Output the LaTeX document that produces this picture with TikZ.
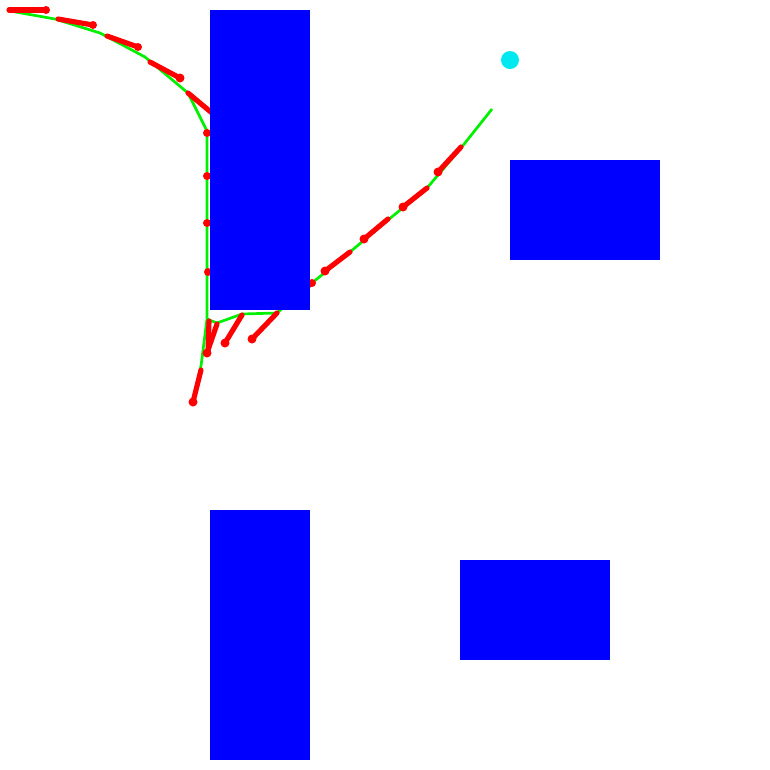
\documentclass[tikz,border=0pt]{standalone}
\usepackage{xcolor}
\usepackage{tikz}
\definecolor{obst}{HTML}{0000FF}
\definecolor{tree}{HTML}{00F000}
\definecolor{seg}{HTML}{FF0000}
\definecolor{goalc}{HTML}{00E8F0}

\begin{document}
\begin{tikzpicture}[x=0.03cm,y=-0.03cm,
  ob/.style={fill=obst,draw=none},
  br/.style={draw=tree,line width=2.3pt,line join=round},
  sg/.style={draw=seg,line width=4.4pt,line cap=round},
  dt/.style={fill=seg}]
  \useasboundingbox (0,0) rectangle (770,770);
  % tree nodes
  \coordinate (s)  at (10,11);
  \coordinate (n1) at (55,19);
  \coordinate (n2) at (100,33);
  \coordinate (n3) at (145,57);
  \coordinate (n4) at (188,93);
  \coordinate (n5) at (207,131);
  \coordinate (n6) at (207,319);
  \coordinate (n7) at (201,366);
  \coordinate (n8) at (193,402);
  \coordinate (n9) at (217,323);
  \coordinate (n10) at (242,314);
  \coordinate (n11) at (277,313);
  \coordinate (n12) at (312,283);
  \coordinate (n13) at (350,252);
  \coordinate (n14) at (388,220);
  \coordinate (n15) at (427,188);
  \coordinate (n16) at (461,148);
  \coordinate (n17) at (492,109);
  % tree
  \draw[br] (s) -- (n1) -- (n2) -- (n3) -- (n4) -- (n5) -- (n6) -- (n7) -- (n8);
  \draw[br] (n6) -- (n9) -- (n10) -- (n11) -- (n12) -- (n13) -- (n14) -- (n15)
    -- (n16) -- (n17);
  % red samples
  \draw[sg] (9,10) -- (46,10);   \fill[dt] (46,10) circle (4);
  \draw[sg] (58,19) -- (93,25);  \fill[dt] (93,25) circle (4);
  \draw[sg] (107,36) -- (138,47); \fill[dt] (138,47) circle (4);
  \draw[sg] (150,62) -- (180,78); \fill[dt] (180,78) circle (4.5);
  \draw[sg] (188,93) -- (218,118);
  \draw[sg] (207,133) -- (235,133); \fill[dt] (207,133) circle (4);
  \draw[sg] (207,176) -- (235,176); \fill[dt] (207,176) circle (4);
  \draw[sg] (207,223) -- (235,223); \fill[dt] (207,223) circle (4);
  \draw[sg] (208,272) -- (235,272); \fill[dt] (208,272) circle (4);
  \draw[sg] (209,321) -- (208,353);
  \draw[sg] (217,324) -- (207,353); \fill[dt] (207,353) circle (4.5);
  \draw[sg] (242,315) -- (225,343); \fill[dt] (225,343) circle (4.5);
  \draw[sg] (277,313) -- (252,339); \fill[dt] (252,339) circle (4.5);
  \draw[sg] (201,370) -- (193,402); \fill[dt] (193,402) circle (4.5);
  \draw[sg] (312,283) -- (292,298); \fill[dt] (312,283) circle (4);
  \draw[sg] (325,271) -- (350,252); \fill[dt] (325,271) circle (4.5);
  \draw[sg] (364,239) -- (388,219); \fill[dt] (364,239) circle (4.5);
  \draw[sg] (403,207) -- (427,188); \fill[dt] (403,207) circle (4.5);
  \draw[sg] (438,172) -- (461,147); \fill[dt] (438,172) circle (4.5);
  % obstacles
  \fill[ob] (210,10) rectangle (310,310);
  \fill[ob] (510,160) rectangle (660,260);
  \fill[ob] (210,510) rectangle (310,760);
  \fill[ob] (460,560) rectangle (610,660);
  % goal
  \fill[goalc] (510,60) circle (9);
\end{tikzpicture}
\end{document}
